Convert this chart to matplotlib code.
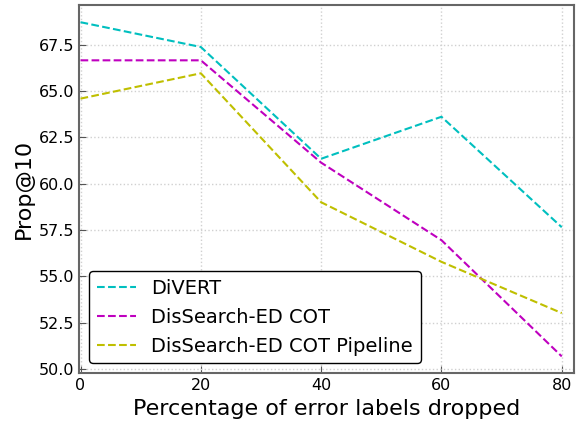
import matplotlib
matplotlib.use("Agg")
import matplotlib.pyplot as plt

x = [0, 20, 40, 60, 80]
divert = [68.73, 67.39, 61.35, 63.62, 57.65]
dis_cot = [66.67, 66.67, 61.14, 56.95, 50.67]
dis_pipe = [64.60, 65.97, 59.00, 55.78, 53.01]
labels = ["DiVERT", "DisSearch-ED COT", "DisSearch-ED COT Pipeline"]

fig, ax = plt.subplots(figsize=(5.79, 4.23), dpi=100)
ax.plot(x, divert, '--', color='#00bfbf', lw=1.5, label=labels[0])
ax.plot(x, dis_cot, '--', color='#bf00bf', lw=1.5, label=labels[1])
ax.plot(x, dis_pipe, '--', color='#bfbf00', lw=1.5, label=labels[2])

ax.set_xlim(-0.2, 82)
ax.set_xticks([0, 20, 40, 60, 80])
ax.set_yticks([50.0, 52.5, 55.0, 57.5, 60.0, 62.5, 65.0, 67.5])
ax.grid(True, linestyle=':', color='#d0d0d0', lw=1)
ax.tick_params(direction='in', labelsize=11.5, length=5, color='#555555')
for s in ax.spines.values():
    s.set_color('#666666')
    s.set_linewidth(1.5)
ax.set_xlabel("Percentage of error labels dropped", fontsize=16)
ax.set_ylabel("Prop@10", fontsize=16)
leg = ax.legend(loc='lower left', fontsize=14, framealpha=1, edgecolor='black',
                fancybox=True, borderaxespad=0.5)
leg.get_frame().set_linewidth(1.0)
fig.subplots_adjust(left=0.137, right=0.991, top=0.987, bottom=0.118)
fig.savefig("out.png", dpi=100)
